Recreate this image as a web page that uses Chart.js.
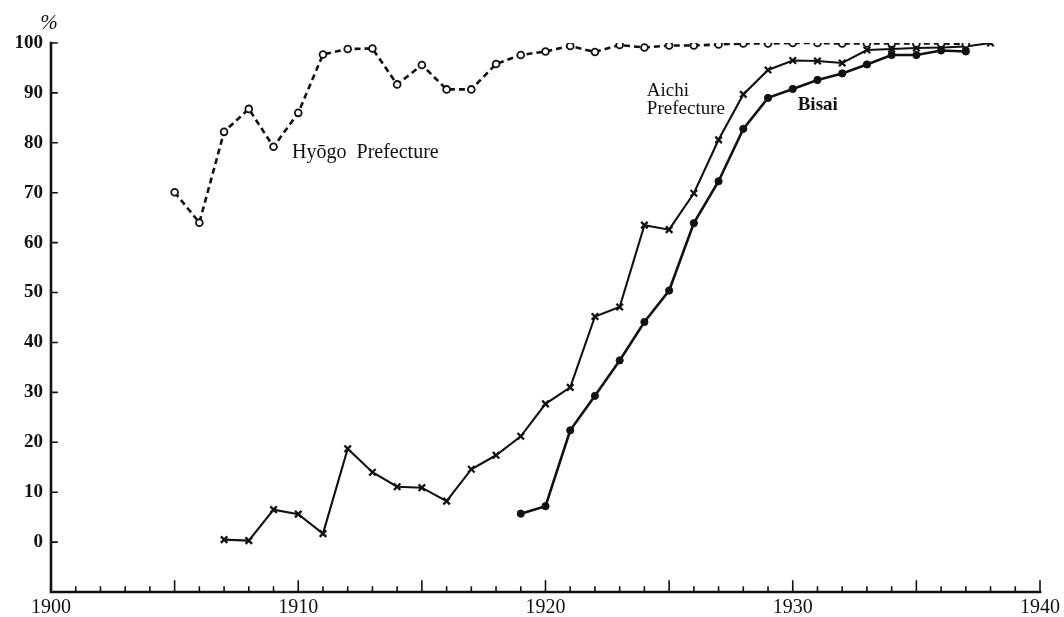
<!DOCTYPE html>
<html>
<head>
<meta charset="utf-8">
<script src="https://cdn.jsdelivr.net/npm/chart.js@4/dist/chart.umd.min.js"></script>
<style>
  html, body { margin: 0; padding: 0; background: #fff; }
  #wrap { width: 1064px; height: 617px; position: relative; }
</style>
</head>
<body>
<div id="wrap"><canvas id="chart"></canvas></div>
<script>
// ── data (percent, by year) ──
const years = [1905, 1906, 1907, 1908, 1909, 1910, 1911, 1912, 1913, 1914, 1915, 1916,
               1917, 1918, 1919, 1920, 1921, 1922, 1923, 1924, 1925, 1926, 1927, 1928,
               1929, 1930, 1931, 1932, 1933, 1934, 1935, 1936, 1937, 1938];

const hyogo = [70.1, 64.0, 82.2, 86.8, 79.2, 86.0, 97.7, 98.8, 98.9, 91.7, 95.6, 90.7,
               90.7, 95.8, 97.6, 98.3, 99.4, 98.2, 99.6, 99.1, 99.5, 99.5, 99.7, 99.9,
               99.9, 100, 100, 99.9, 99.9, 99.9, 99.9, 99.9, 99.8, null];

const aichi = [null, null, 0.5, 0.3, 6.5, 5.6, 1.7, 18.7, 14.0, 11.1, 10.9, 8.2,
               14.6, 17.4, 21.2, 27.7, 31.0, 45.2, 47.1, 63.5, 62.6, 69.9, 80.6, 89.7,
               94.6, 96.5, 96.4, 96.0, 98.6, 98.8, 99.0, 99.1, 99.3, 100];

const bisai = [null, null, null, null, null, null, null, null, null, null, null, null,
               null, null, 5.7, 7.2, 22.4, 29.3, 36.4, 44.1, 50.4, 63.9, 72.3, 82.8,
               89.0, 90.8, 92.6, 93.9, 95.7, 97.6, 97.6, 98.5, 98.3, null];

const xLabels = [1900, 1910, 1920, 1930, 1940];
const yLabels = [0, 10, 20, 30, 40, 50, 60, 70, 80, 90, 100];

// in-plot labels: [text, year, percent, font size]
const notes = [
  ['Hyōgo  Prefecture', 1909.75, 77.0, 20],
  ['Aichi', 1924.1, 89.4, 19],
  ['Prefecture', 1924.1, 85.8, 19],
  ['Bisai', 1930.2, 86.6, 19],
];

const toPoints = arr => years.map((yr, i) => ({ x: yr, y: arr[i] })).filter(p => p.y !== null);

const INK = '#111';
const SERIF = '"Liberation Serif", "DejaVu Serif", serif';

/* axes with inward ticks + text notes, drawn through the chart's own scales */
const paperAxes = {
  id: 'paperAxes',
  afterDatasetsDraw(chart) {
    const { ctx, scales: { x, y } } = chart;
    const x0 = x.getPixelForValue(1900), x1 = x.getPixelForValue(1940);
    const yb = y.getPixelForValue(-10), yt = y.getPixelForValue(100);
    ctx.save();
    ctx.strokeStyle = INK;
    ctx.lineCap = 'square';

    ctx.lineWidth = 2.6;
    ctx.beginPath();
    ctx.moveTo(x0, yt); ctx.lineTo(x0, yb); ctx.lineTo(x1, yb);
    ctx.stroke();

    ctx.lineWidth = 1.6;
    ctx.beginPath();
    yLabels.forEach(v => {
      const py = y.getPixelForValue(v);
      ctx.moveTo(x0, py); ctx.lineTo(x0 + 6, py);
    });
    for (let yr = 1901; yr <= 1940; yr++) {
      const px = x.getPixelForValue(yr);
      const len = yr % 5 === 0 ? 11 : 5;
      ctx.moveTo(px, yb); ctx.lineTo(px, yb - len);
    }
    ctx.stroke();

    // unit mark
    ctx.fillStyle = INK;
    ctx.font = 'italic 21px ' + SERIF;
    ctx.textAlign = 'center';
    ctx.textBaseline = 'alphabetic';
    ctx.fillText('%', x0 - 2, yt - 14);

    ctx.textAlign = 'left';
    notes.forEach(([txt, xv, yv, size]) => {
      ctx.font = (txt === 'Bisai' ? 'bold ' : '') + size + 'px ' + SERIF;
      ctx.fillText(txt, x.getPixelForValue(xv), y.getPixelForValue(yv));
    });
    ctx.restore();
  }
};

new Chart(document.getElementById('chart'), {
  type: 'line',
  data: {
    datasets: [
      {
        label: 'Hyōgo Prefecture',
        data: toPoints(hyogo),
        borderColor: INK, borderWidth: 2.6, borderDash: [6, 4],
        pointStyle: 'circle', pointRadius: 3.4, pointBorderWidth: 1.8,
        pointBackgroundColor: '#fff', pointBorderColor: INK,
        tension: 0, fill: false,
      },
      {
        label: 'Aichi Prefecture',
        data: toPoints(aichi),
        borderColor: INK, borderWidth: 2.1,
        pointStyle: 'crossRot', pointRadius: 4.6, pointBorderWidth: 2.3,
        pointBorderColor: INK,
        tension: 0, fill: false,
      },
      {
        label: 'Bisai',
        data: toPoints(bisai),
        borderColor: INK, borderWidth: 2.6,
        pointStyle: 'circle', pointRadius: 3.6, pointBorderWidth: 1,
        pointBackgroundColor: INK, pointBorderColor: INK,
        tension: 0, fill: false,
      },
    ],
  },
  options: {
    responsive: true,
    maintainAspectRatio: false,
    animation: false,
    layout: { padding: { top: 43, right: 23, bottom: 0, left: 0 } },
    plugins: { legend: { display: false }, tooltip: { enabled: false } },
    scales: {
      x: {
        type: 'linear', min: 1900, max: 1940,
        grid: { display: false, drawTicks: false, tickLength: 0 }, border: { display: false },
        afterBuildTicks: s => { s.ticks = xLabels.map(v => ({ value: v })); },
        afterFit: s => { s.height = 25; },
        ticks: {
          autoSkip: false, maxRotation: 0, padding: 4, color: INK,
          font: { family: SERIF, size: 20 },
          callback: v => String(v),
        },
      },
      y: {
        type: 'linear', min: -10, max: 100,
        grid: { display: false, drawTicks: false, tickLength: 0 }, border: { display: false },
        afterBuildTicks: s => { s.ticks = yLabels.map(v => ({ value: v })); },
        afterFit: s => { s.width = 51; },
        ticks: {
          padding: 8, color: INK,
          font: { family: SERIF, size: 19, weight: 'bold' },
          callback: v => String(v),
        },
      },
    },
  },
  plugins: [paperAxes],
});
</script>
</body>
</html>
